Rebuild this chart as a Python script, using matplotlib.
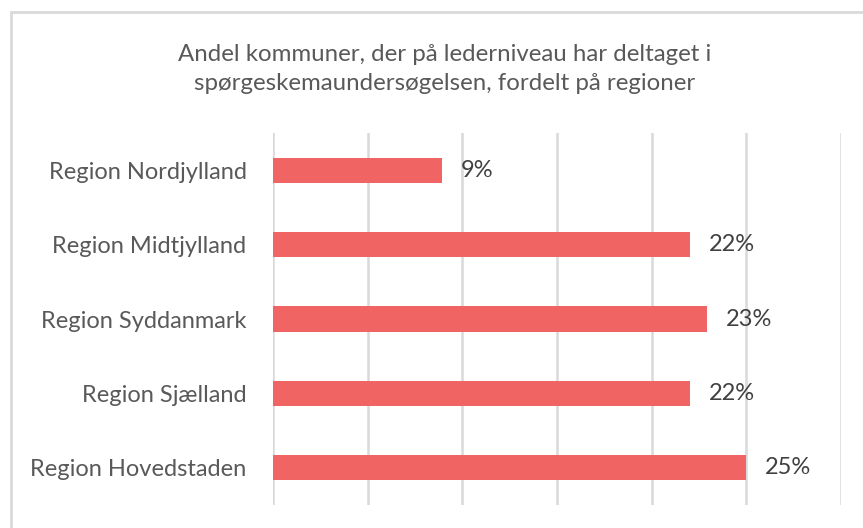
import matplotlib
matplotlib.use("Agg")
import matplotlib.pyplot as plt
from matplotlib.patches import Rectangle

regions = ["Region Nordjylland", "Region Midtjylland", "Region Syddanmark",
           "Region Sjælland", "Region Hovedstaden"]
values = [8.9, 22.0, 22.9, 22.0, 25.0]
value_labels = ["9%", "22%", "23%", "22%", "25%"]
title = "Andel kommuner, der på lederniveau har deltaget i\nspørgeskemaundersøgelsen, fordelt på regioner"

W, H = 863, 528
fig = plt.figure(figsize=(W / 100, H / 100), dpi=100)
fig.patch.set_facecolor("white")

font = "Lato"
ax = fig.add_axes([273 / W, 1 - 505 / H, (841 - 273) / W, (505 - 133) / H])

ypos = list(range(len(regions)))
ax.barh(ypos, values, height=0.34, color="#F06464", zorder=3)
ax.set_ylim(len(regions) - 0.5, -0.5)
ax.set_xlim(0, 30)
ax.set_xticks([0, 5, 10, 15, 20, 25, 30])
ax.xaxis.grid(True, color="#D9D9D9", linewidth=1.8, zorder=0)
ax.set_xticklabels([])
ax.tick_params(axis="x", length=0)
ax.tick_params(axis="y", length=0, pad=19)
ax.set_yticks(ypos)
ax.set_yticklabels(regions, fontsize=17, color="#595959", family=font)
for s in ax.spines.values():
    s.set_visible(False)

for y, v, lab in zip(ypos, values, value_labels):
    ax.annotate(lab, (v, y), xytext=(19, 0), textcoords="offset pixels",
                ha="left", va="center", fontsize=17, color="#404040", family=font)

fig.text(445 / W, 1 - 69 / H, title, ha="center", va="center", fontsize=17.3,
         color="#595959", family=font, linespacing=1.42)

fig.patches.append(Rectangle((11 / W, -0.1), 1.2, 1 - 12.5 / H + 0.1,
                             transform=fig.transFigure, fill=False,
                             edgecolor="#D9D9D9", linewidth=2))

fig.savefig("out.png", dpi=100)
